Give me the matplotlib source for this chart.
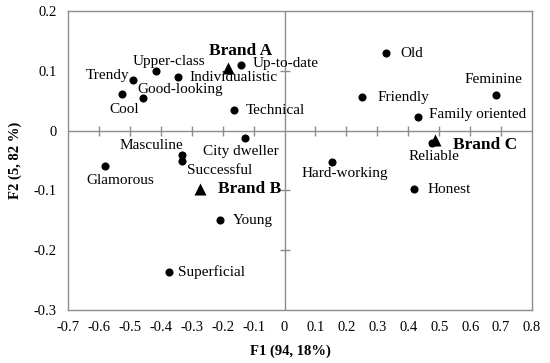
import matplotlib
matplotlib.use("Agg")
import matplotlib.pyplot as plt

attributes = ["Trendy", "Upper-class", "Individualistic", "Cool", "Good-looking",
              "Up-to-date", "Technical", "City dweller", "Masculine", "Successful",
              "Glamorous", "Young", "Superficial", "Old", "Friendly", "Feminine",
              "Family oriented", "Reliable", "Hard-working", "Honest"]
attr_f1 = [-0.489, -0.417, -0.343, -0.524, -0.459,
           -0.140, -0.162, -0.127, -0.331, -0.331,
           -0.580, -0.210, -0.375, 0.327, 0.252, 0.683,
           0.430, 0.476, 0.152, 0.418]
attr_f2 = [0.085, 0.100, 0.090, 0.062, 0.055,
           0.110, 0.035, -0.013, -0.040, -0.051,
           -0.060, -0.150, -0.236, 0.129, 0.057, 0.059,
           0.022, -0.021, -0.052, -0.097]

brands = ["Brand A", "Brand B", "Brand C"]
brand_f1 = [-0.184, -0.272, 0.485]
brand_f2 = [0.104, -0.097, -0.015]

x_ticks = [-0.7, -0.6, -0.5, -0.4, -0.3, -0.2, -0.1, 0, 0.1, 0.2, 0.3, 0.4, 0.5, 0.6, 0.7, 0.8]
y_ticks = [-0.3, -0.2, -0.1, 0, 0.1, 0.2]

# label offsets in pixels (dx, dy up), alignment
attr_label_style = {
    "Trendy": (-4, 4, "right"),
    "Upper-class": (13, 9, "center"),
    "Individualistic": (11, -1, "left"),
    "Cool": (2, -16, "center"),
    "Good-looking": (-5, 8, "left"),
    "Up-to-date": (11, 1, "left"),
    "Technical": (11, -1, "left"),
    "City dweller": (-4, -13, "center"),
    "Masculine": (1, 9, "right"),
    "Successful": (5, -9, "left"),
    "Glamorous": (15, -14, "center"),
    "Young": (13, 0, "left"),
    "Superficial": (9, 0, "left"),
    "Old": (15, 0, "left"),
    "Friendly": (15, -1, "left"),
    "Feminine": (-2, 16, "center"),
    "Family oriented": (11, 3, "left"),
    "Reliable": (2, -13, "center"),
    "Hard-working": (13, -12, "center"),
    "Honest": (14, -1, "left"),
}
brand_label_style = {
    "Brand A": (13, 17, "center"),
    "Brand B": (18, 0, "left"),
    "Brand C": (18, -5, "left"),
}

SERIF = ["Liberation Serif", "DejaVu Serif"]
plt.rcParams["font.family"] = SERIF
plt.rcParams["font.size"] = 10

fig = plt.figure(figsize=(5.5, 3.63), dpi=100)
ax = fig.add_axes([68 / 550, 1 - 310 / 363, (532 - 68) / 550, (310 - 11) / 363])

gray = "#8c8c8c"
ax.set_xlim(-0.7, 0.8)
ax.set_ylim(-0.3, 0.2)
ax.axhline(0, color=gray, lw=1.0, zorder=1)
ax.axvline(0, color=gray, lw=1.0, zorder=1)
# crosshair tick marks
for xt in x_ticks:
    if -0.7 < xt < 0.8 and xt != 0:
        ax.plot([xt], [0], marker="|", ms=6.5, mew=1.0, color=gray, zorder=1)
for yt in y_ticks:
    if -0.3 < yt < 0.2 and yt != 0:
        ax.plot([0], [yt], marker="_", ms=6.5, mew=1.0, color=gray, zorder=1)

for s in ax.spines.values():
    s.set_color(gray)
    s.set_linewidth(1.0)

ax.set_xticks(x_ticks)
ax.set_yticks(y_ticks)
ax.set_xticklabels(["0" if v == 0 else f"{v:g}" for v in x_ticks])
ax.set_yticklabels(["0" if v == 0 else f"{v:g}" for v in y_ticks])
ax.tick_params(length=0, pad=8, labelsize=10.5)

ax.scatter(attr_f1, attr_f2, s=34, color="black", zorder=3, linewidths=0)
ax.scatter(brand_f1, brand_f2, s=75, marker="^", color="black", zorder=3, linewidths=0)

pt = 72 / 100
for name, x, y in zip(attributes, attr_f1, attr_f2):
    dx, dy, ha = attr_label_style[name]
    ax.annotate(name, (x, y), xytext=(dx * pt, dy * pt), textcoords="offset points",
                ha=ha, va="center", fontsize=11, zorder=4)
for name, x, y in zip(brands, brand_f1, brand_f2):
    dx, dy, ha = brand_label_style[name]
    ax.annotate(name, (x, y), xytext=(dx * pt, dy * pt), textcoords="offset points",
                ha=ha, va="center", fontsize=12.5, fontweight="bold", zorder=4)

ax.set_xlabel("F1 (94, 18%)", fontweight="bold", fontsize=10.5)
ax.xaxis.set_label_coords(0.48, -0.115)
ax.set_ylabel("F2 (5, 82 %)", fontweight="bold", fontsize=10.5)
ax.yaxis.set_label_coords(-0.1, 0.5)

fig.savefig("out.png", dpi=100)
